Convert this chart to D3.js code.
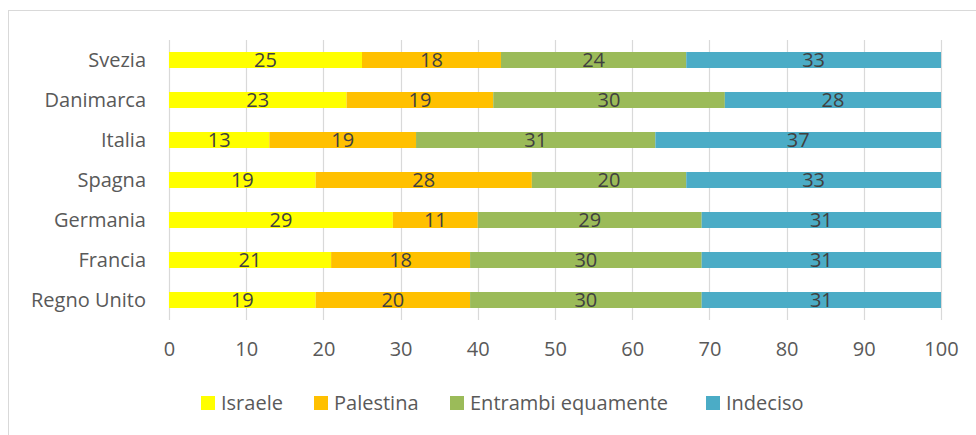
<!DOCTYPE html>
<html>
<head>
<meta charset="utf-8">
<script src="https://cdn.jsdelivr.net/npm/d3@7"></script>
<style>
  body { margin: 0; background: #fff; }
  text { font-family: "Open Sans", Lato, sans-serif; }
</style>
</head>
<body>
<div id="chart"></div>
<script>
var paesi = ['Svezia', 'Danimarca', 'Italia', 'Spagna', 'Germania', 'Francia', 'Regno Unito'];
var serie = ['Israele', 'Palestina', 'Entrambi equamente', 'Indeciso'];
var israele   = [25, 23, 13, 19, 29, 21, 19];
var palestina = [18, 19, 19, 28, 11, 18, 20];
var entrambi  = [24, 30, 31, 20, 29, 30, 30];
var indeciso  = [33, 28, 37, 33, 31, 31, 31];
var xTicks = [0, 10, 20, 30, 40, 50, 60, 70, 80, 90, 100];
var colori = ['#FFFF00', '#FFC000', '#9BBB59', '#4BACC6'];

var svgWidth = 976,
    svgHeight = 435,
    margin = { top: 40, right: 35, bottom: 115, left: 169 },
    width = svgWidth - margin.left - margin.right,
    height = svgHeight - margin.top - margin.bottom,
    fontSize = '20px';

var svg = d3.select('#chart').append('svg')
  .attr('width', svgWidth).attr('height', svgHeight);

// chart frame
svg.append('rect')
  .attr('x', 8.5).attr('y', 10.5)
  .attr('width', 1000).attr('height', 600)
  .attr('fill', '#fff').attr('stroke', '#d9d9d9');

var g = svg.append('g').attr('transform', 'translate(' + margin.left + ',' + margin.top + ')');

var x = d3.scaleLinear().domain([0, 100]).range([0, width]);
var y = d3.scaleBand().domain(paesi).range([0, height]).paddingInner(0.6).paddingOuter(0.3);

// gridlines
g.append('g').selectAll('line')
  .data(xTicks).enter().append('line')
  .attr('x1', function(d) { return Math.round(x(d)) + 0.5; })
  .attr('x2', function(d) { return Math.round(x(d)) + 0.5; })
  .attr('y1', 0).attr('y2', height)
  .attr('stroke', '#d9d9d9').attr('stroke-width', 1.2);

var righe = paesi.map(function(p, i) {
  return { paese: p, valori: [israele[i], palestina[i], entrambi[i], indeciso[i]] };
});
var stack = d3.stack().keys([0, 1, 2, 3]).value(function(d, k) { return d.valori[k]; });
var strati = stack(righe);

var layer = g.selectAll('.layer')
  .data(strati).enter().append('g')
  .attr('class', 'layer')
  .attr('fill', function(d, i) { return colori[i]; });

layer.selectAll('rect')
  .data(function(d) { return d; }).enter().append('rect')
  .attr('x', function(d) { return x(d[0]); })
  .attr('width', function(d) { return x(d[1]) - x(d[0]); })
  .attr('y', function(d) { return y(d.data.paese); })
  .attr('height', y.bandwidth());

layer.selectAll('text')
  .data(function(d) { return d; }).enter().append('text')
  .attr('x', function(d) { return (x(d[0]) + x(d[1])) / 2; })
  .attr('y', function(d) { return y(d.data.paese) + y.bandwidth() / 2; })
  .attr('dy', '0.36em')
  .attr('text-anchor', 'middle')
  .attr('fill', '#404040')
  .style('font-size', fontSize)
  .text(function(d) { return d[1] - d[0]; });

// category labels
g.append('g').selectAll('text')
  .data(paesi).enter().append('text')
  .attr('x', -23)
  .attr('y', function(d) { return y(d) + y.bandwidth() / 2; })
  .attr('dy', '0.36em')
  .attr('text-anchor', 'end')
  .attr('fill', '#595959')
  .style('font-size', fontSize)
  .text(function(d) { return d; });

// x axis labels
var xAxis = g.append('g')
  .attr('transform', 'translate(0,' + height + ')')
  .call(d3.axisBottom(x).tickValues(xTicks).tickSize(0).tickPadding(22));
xAxis.select('.domain').remove();
xAxis.selectAll('text')
  .attr('fill', '#595959')
  .style('font-size', fontSize)
  .style('font-family', '"Open Sans", Lato, sans-serif');

// legend
var legendX = [201, 314, 450, 706];
var legend = svg.append('g').selectAll('g')
  .data(serie).enter().append('g')
  .attr('transform', function(d, i) { return 'translate(' + legendX[i] + ',396)'; });
legend.append('rect')
  .attr('width', 14).attr('height', 14)
  .attr('fill', function(d, i) { return colori[i]; });
legend.append('text')
  .attr('x', 20).attr('y', 7).attr('dy', '0.36em')
  .attr('fill', '#595959')
  .style('font-size', fontSize)
  .text(function(d) { return d; });
</script>
</body>
</html>
